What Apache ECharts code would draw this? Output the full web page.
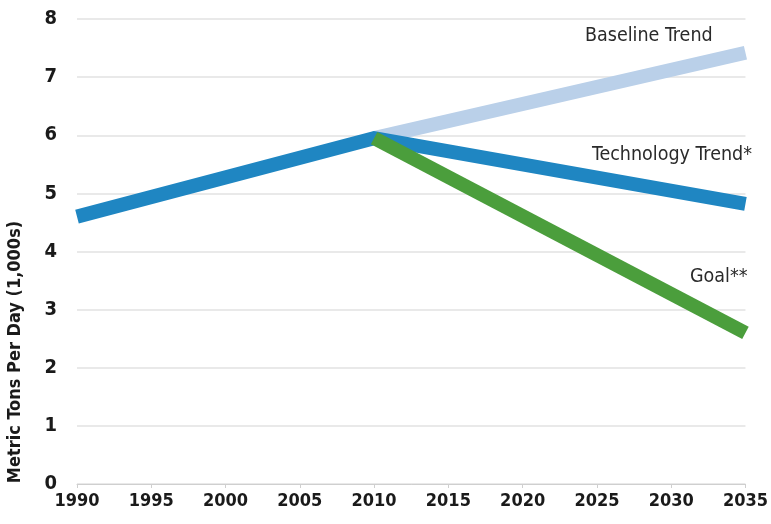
<!DOCTYPE html>
<html><head><meta charset="utf-8">
<script src="https://cdn.jsdelivr.net/npm/echarts@6/dist/echarts.min.js"></script>
<style>html,body{margin:0;padding:0;background:#fff}#c{width:771px;height:524px}</style>
</head><body><div id="c"></div>
<script>
const xTicks = [1990,1995,2000,2005,2010,2015,2020,2025,2030,2035];
const yTicks = [0,1,2,3,4,5,6,7,8];
const baselineYears = [2010, 2035];
const baselineValues = [5.95, 7.42];
const techYears = [1990, 2010, 2035];
const techValues = [4.6, 5.95, 4.82];
const goalYears = [2010, 2035];
const goalValues = [5.95, 2.6];
const seriesNames = ["Baseline Trend", "Technology Trend*", "Goal**"];

const pair = (xs, ys) => xs.map((x, i) => [x, ys[i]]);
const font = '"Liberation Sans Narrow","DejaVu Sans Condensed",sans-serif';
const chart = echarts.init(document.getElementById('c'), null, {renderer: 'canvas'});
const lineStyle = (c) => ({color: c, width: 14, cap: 'butt', join: 'miter'});
chart.setOption({
  animation: false,
  grid: {left: 77, right: 23, top: 19, bottom: 40},
  xAxis: {
    type: 'value', min: 1990, max: 2035, interval: 5,
    axisLine: {show: true, lineStyle: {color: '#cfcfcf', width: 1}},
    axisTick: {show: true, length: 4, lineStyle: {color: '#cfcfcf'}},
    splitLine: {show: false},
    axisLabel: {color: '#1a1a1a', fontFamily: font, fontWeight: 'bold', fontSize: 18, margin: 8,
      formatter: v => xTicks.includes(v) ? String(v) : ''}
  },
  yAxis: {
    type: 'value', min: 0, max: 8, interval: 1,
    axisLine: {show: false}, axisTick: {show: false},
    splitLine: {lineStyle: {color: '#e2e2e2', width: 1.5}},
    axisLabel: {color: '#1a1a1a', fontFamily: font, fontWeight: 'bold', fontSize: 20, margin: 20,
      formatter: v => yTicks.includes(v) ? String(v) : ''}
  },
  series: [
    {name: seriesNames[0], type: 'line', data: pair(baselineYears, baselineValues), symbol: 'none', lineStyle: lineStyle('#bad0e9'), z: 2},
    {name: seriesNames[1], type: 'line', data: pair(techYears, techValues), symbol: 'none', lineStyle: lineStyle('#1f86c2'), z: 3},
    {name: seriesNames[2], type: 'line', data: pair(goalYears, goalValues), symbol: 'none', lineStyle: lineStyle('#4b9e3c'), z: 4}
  ],
  graphic: [
    {type: 'text', left: 585, top: 26, style: {text: seriesNames[0], fill: '#2a2a2a', font: '19.5px ' + font}},
    {type: 'text', left: 592, top: 145, style: {text: seriesNames[1], fill: '#2a2a2a', font: '19.5px ' + font}},
    {type: 'text', left: 690, top: 267, style: {text: seriesNames[2], fill: '#2a2a2a', font: '19.5px ' + font}},
    {type: 'text', x: 6, y: 352, rotation: Math.PI / 2,
      style: {text: 'Metric Tons Per Day (1,000s)', fill: '#1a1a1a', font: 'bold 18px ' + font, textAlign: 'center', textVerticalAlign: 'top'}}
  ]
});
</script></body></html>
